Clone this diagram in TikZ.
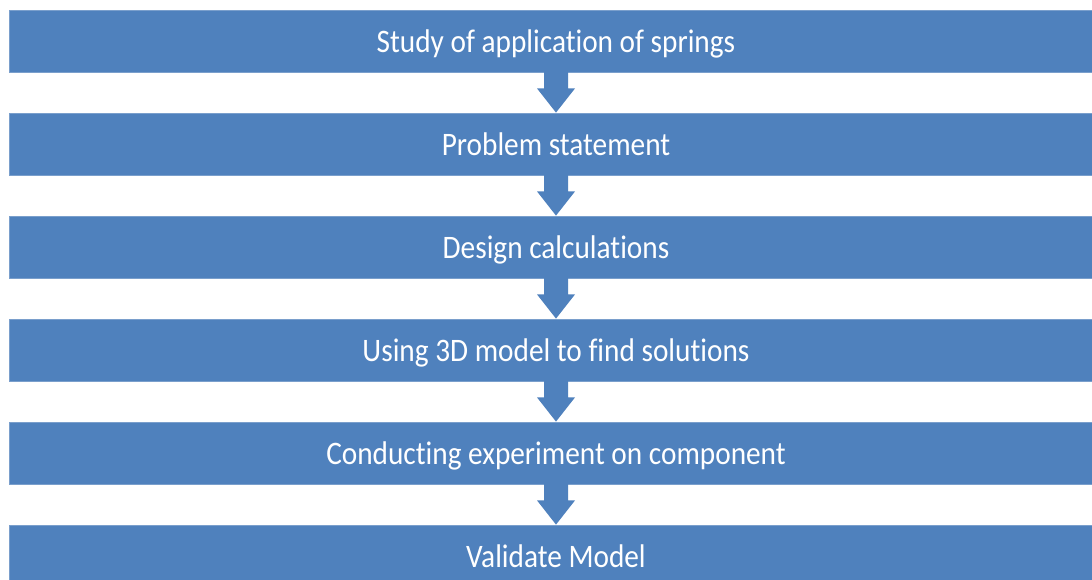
\documentclass[tikz,border=0pt]{standalone}
\usepackage{fontspec}
\setmainfont{Carlito}[Ligatures=NoCommon]
\usetikzlibrary{calc}
\definecolor{boxblue}{HTML}{4F81BD}
\definecolor{boxedge}{HTML}{7A9FCC}
\newcommand{\steptext}[1]{\scalebox{1}[1.12]{#1}}
\tikzset{
  stepbox/.style={rectangle, fill=boxblue, draw=boxedge, line width=0.8pt,
    minimum width=1094pt, minimum height=62pt, inner sep=0pt,
    text height=42pt, text depth=20pt,
    text=white, font=\fontsize{29.3}{34}\selectfont},
  blockarrow/.style={fill=boxblue}
}
\begin{document}
\begin{tikzpicture}[x=1pt,y=1pt]
\useasboundingbox (0,0) rectangle (1092,-579);
\clip (0,0) rectangle (1092,-579);
\fill[white] (0,0) rectangle (1092,-579);
\node[stepbox] (b1) at (556,-41) {\steptext{Study of application of springs}};
\node[stepbox] (b2) at (556,-144) {\steptext{Problem statement}};
\node[stepbox] (b3) at (556,-247) {\steptext{Design calculations}};
\node[stepbox] (b4) at (556,-350) {\steptext{Using 3D model to find solutions}};
\node[stepbox] (b5) at (556,-453) {\steptext{Conducting experiment on component}};
\node[stepbox] (b6) at (556,-556) {\steptext{Validate Model}};
\foreach \a/\b in {b1/b2,b2/b3,b3/b4,b4/b5,b5/b6}{
  \fill[blockarrow] ($(\a.south)+(-12,0.5)$) -- ($(\a.south)+(-12,-16)$)
    -- ($(\a.south)+(-19,-16)$) -- (\b.north) -- ($(\a.south)+(19,-16)$)
    -- ($(\a.south)+(12,-16)$) -- ($(\a.south)+(12,0.5)$) -- cycle;
}
\end{tikzpicture}
\end{document}
